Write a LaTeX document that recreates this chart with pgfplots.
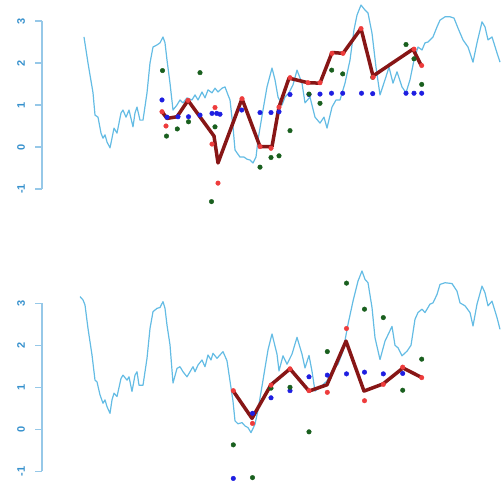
\documentclass[border=0pt]{standalone}
\usepackage{pgfplots}
\pgfplotsset{compat=1.18}
\usepackage{fontspec}
\setmainfont{Liberation Sans}
\definecolor{axcol}{RGB}{150,200,232}
\definecolor{labcol}{RGB}{55,145,205}
\definecolor{lblue}{RGB}{100,188,228}
\definecolor{ptred}{RGB}{238,60,60}
\definecolor{ptgreen}{RGB}{25,95,30}
\definecolor{ptblue}{RGB}{30,30,225}
\definecolor{dred}{RGB}{135,22,22}
\pgfplotsset{panel/.style={scale only axis, width=501bp, xmin=0, xmax=501,
  axis lines=none, clip=false, anchor=south west},
  pts/.style={only marks, mark=*, mark size=2.3pt}}
\newcommand{\yaxis}{%
  \draw[axcol, line width=1.1bp] (axis cs:42,-1) -- (axis cs:42,3);
  \draw[axcol, line width=1.1bp] (axis cs:42,-1) -- (axis cs:35,-1);
  \draw[axcol, line width=1.1bp] (axis cs:42,0) -- (axis cs:35,0);
  \draw[axcol, line width=1.1bp] (axis cs:42,1) -- (axis cs:35,1);
  \draw[axcol, line width=1.1bp] (axis cs:42,2) -- (axis cs:35,2);
  \draw[axcol, line width=1.1bp] (axis cs:42,3) -- (axis cs:35,3);
  \node[rotate=90, text=labcol, font=\fontsize{11}{13}\selectfont\bfseries] at (axis cs:21,-1) {-1};
  \node[rotate=90, text=labcol, font=\fontsize{11}{13}\selectfont\bfseries] at (axis cs:21,0) {0};
  \node[rotate=90, text=labcol, font=\fontsize{11}{13}\selectfont\bfseries] at (axis cs:21,1) {1};
  \node[rotate=90, text=labcol, font=\fontsize{11}{13}\selectfont\bfseries] at (axis cs:21,2) {2};
  \node[rotate=90, text=labcol, font=\fontsize{11}{13}\selectfont\bfseries] at (axis cs:21,3) {3};
}
\begin{document}
\begin{tikzpicture}
\useasboundingbox (0,0) rectangle (501bp,482bp);
% ---------------- top panel ----------------
\begin{axis}[panel, at={(0bp,242bp)}, height=240bp, ymin=-2.2143, ymax=3.5]
\yaxis
\addplot[lblue, line width=1.2bp, line join=round] coordinates {
(84,2.62)(88,2.00)(93,1.29)(95,0.76)(98,0.71)(101,0.33)(103,0.21)(105,0.29)(107,0.12)(110,-0.02)
(112,0.21)(114,0.45)(117,0.33)(121,0.81)(123,0.88)(126,0.71)(129,0.88)(133,0.48)(135,0.81)(137,0.95)
(140,0.64)(143,0.64)(147,1.29)(150,2.00)(153,2.38)(157,2.43)(160,2.48)(163,2.62)(165,2.48)(167,2.07)
(170,1.52)(173,0.88)(177,1.00)(180,1.12)(183,1.05)(187,1.17)(192,1.12)(195,1.24)(198,1.12)(202,1.31)
(205,1.17)(208,1.36)(212,1.29)(215,1.40)(218,1.31)(222,1.40)(225,1.43)(228,1.24)(230,1.12)(233,0.48)
(235,-0.07)(237,-0.14)(240,-0.24)(244,-0.24)(247,-0.29)(250,-0.31)(253,-0.38)(256,-0.24)(258,0.17)(263,0.88)
(267,1.43)(272,1.88)(275,1.60)(278,1.19)(282,1.00)(285,1.19)(289,1.29)(293,1.48)(297,1.83)(302,1.52)
(305,1.05)(310,1.19)(315,0.71)(320,0.57)(324,0.71)(327,0.45)(332,0.95)(336,1.12)(340,1.12)(345,1.52)
(350,2.07)(354,2.79)(357,3.14)(361,3.38)(365,3.26)(368,3.19)(372,2.71)(376,1.90)(380,1.24)(385,1.60)
(389,1.90)(393,1.52)(397,1.79)(402,1.43)(406,1.29)(410,1.60)(414,2.07)(418,2.38)(422,2.31)(425,2.48)
(428,2.50)(433,2.62)(437,2.86)(440,3.02)(445,3.10)(450,3.10)(454,3.07)(458,2.83)(463,2.55)(468,2.38)
(473,2.02)(477,2.48)(482,2.98)(485,2.86)(488,2.55)(492,2.62)(497,2.24)(500,2.02)};
\addplot[dred, line width=3.5bp, line join=round] coordinates {
(162,0.84)(167,0.68)(177,0.72)(188,1.11)(214,0.26)(218,-0.38)(242,1.15)(260,0.01)(272,0.01)(279,0.95)
(289,1.64)(308,1.53)(320,1.52)(332,2.25)(343,2.23)(361,2.82)(373,1.69)(413,2.33)(421,1.95)};
\addplot[pts, ptblue] coordinates {
(162,1.12)(167,0.71)(178,0.72)(188.5,0.72)(200,0.76)(212,0.80)(216.7,0.80)(220,0.78)(241.7,0.88)
(260,0.82)(271,0.82)(279,0.84)(290,1.25)(309,1.25)(320,1.26)(331.5,1.28)(342.7,1.28)(361.5,1.28)
(372.7,1.27)(406,1.28)(414,1.28)(421.7,1.28)};
\addplot[pts, ptgreen] coordinates {
(162.5,1.82)(166.5,0.26)(177.3,0.43)(188.5,0.60)(200,1.77)(215,0.48)(211.5,-1.30)(260,-0.48)(271,-0.25)
(279,-0.21)(290,0.39)(309,1.26)(320,1.04)(331.7,1.83)(342.7,1.74)(372.7,1.66)(406,2.44)(414,2.10)(421.7,1.49)};
\addplot[pts, ptred] coordinates {
(162,0.84)(166,0.50)(188,1.11)(212,0.07)(215,0.94)(218,-0.86)(242,1.15)(260,0.01)(271,-0.03)(279,0.95)
(290,1.65)(308,1.53)(320,1.53)(332,2.23)(343,2.23)(361,2.82)(373,1.66)(414,2.33)(421.7,1.94)};
\end{axis}
% ---------------- bottom panel ----------------
\begin{axis}[panel, at={(0bp,0bp)}, height=241bp, ymin=-1.2548, ymax=4.4833]
\yaxis
\addplot[lblue, line width=1.2bp, line join=round] coordinates {
(80,3.16)(83,3.08)(85,2.96)(88,2.40)(92,1.77)(95,1.17)(97,1.13)(100,0.82)(103,0.62)(105,0.70)
(107,0.54)(110,0.38)(112,0.70)(114,0.86)(117,0.78)(121,1.21)(123,1.29)(127,1.17)(129,1.25)(132,0.90)
(135,1.29)(137,1.37)(139,1.05)(143,1.05)(147,1.69)(150,2.40)(153,2.80)(157,2.88)(160,2.90)(163,3.04)
(165,2.88)(167,2.48)(170,2.01)(173,1.10)(177,1.45)(180,1.49)(183,1.37)(187,1.25)(193,1.49)(195,1.37)
(198,1.53)(202,1.65)(205,1.49)(208,1.77)(211,1.65)(213,1.81)(217,1.69)(220,1.77)(223,1.85)(227,1.63)
(230,1.15)(233,0.67)(235,0.20)(238,0.13)(242,0.16)(245,0.08)(248,0.04)(251,-0.08)(255,0.12)(258,0.46)
(263,1.17)(268,1.89)(272,2.27)(277,1.79)(279,1.39)(283,1.75)(287,1.55)(292,1.79)(297,2.19)(302,1.79)
(305,1.46)(309,1.76)(312,1.38)(315,0.91)(320,1.00)(327,1.15)(332,1.39)(338,1.55)(343,1.86)(348,2.50)
(353,3.05)(358,3.53)(362,3.77)(365,3.57)(368,3.49)(372,2.90)(375,2.18)(380,1.66)(385,2.10)(392,2.45)
(395,2.00)(398,1.94)(402,1.75)(407,1.86)(411,2.00)(415,2.62)(418,2.78)(422,2.86)(425,2.78)(430,2.98)
(433,3.01)(437,3.21)(440,3.45)(445,3.49)(452,3.47)(457,3.29)(460,3.01)(465,2.94)(470,2.78)(473,2.46)
(477,2.98)(482,3.41)(485,3.25)(488,2.94)(492,3.05)(497,2.66)(500,2.38)};
\addplot[dred, line width=3.5bp, line join=round] coordinates {
(233,0.92)(252,0.26)(271,1.06)(290,1.44)(309,0.91)(327,1.06)(346,2.10)(364,0.91)(383,1.08)(403,1.46)(422,1.23)};
\addplot[pts, ptblue] coordinates {
(233.3,-1.17)(252.5,0.38)(271,0.75)(290,0.92)(309,1.25)(327.3,1.29)(346.5,1.32)(364.5,1.36)(383.3,1.32)(402.7,1.33)};
\addplot[pts, ptgreen] coordinates {
(233.3,-0.37)(252.5,-1.15)(271,0.98)(290,1.00)(309,-0.06)(327.3,1.85)(346.5,3.48)(364.5,2.86)(383.3,2.66)(402.7,0.93)(421.7,1.67)};
\addplot[pts, ptred] coordinates {
(233.3,0.92)(252.5,0.14)(271,1.05)(290,1.44)(309,0.92)(327.3,0.88)(346.5,2.40)(364.5,0.68)(383.3,1.07)(402.7,1.48)(421.7,1.23)};
\end{axis}
\end{tikzpicture}
\end{document}
